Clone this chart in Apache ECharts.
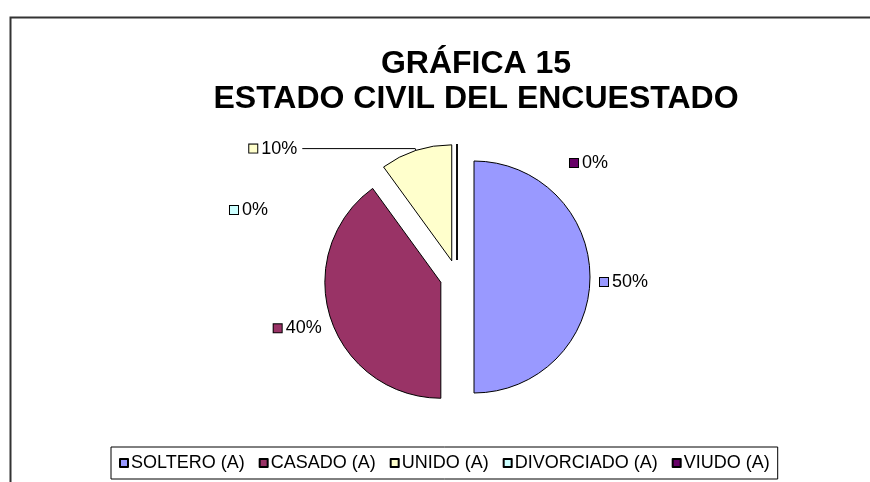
<!DOCTYPE html>
<html>
<head>
<meta charset="utf-8">
<script src="https://cdn.jsdelivr.net/npm/echarts@6/dist/echarts.min.js"></script>
<style>
  html, body { margin: 0; padding: 0; background: #fff; }
  #chart { width: 870px; height: 482px; }
</style>
</head>
<body>
<div id="chart"></div>
<script>
// datos de la gráfica
const categories = ['SOLTERO (A)', 'CASADO (A)', 'UNIDO (A)', 'DIVORCIADO (A)', 'VIUDO (A)'];
const values = [50, 40, 10, 0, 0];
const colors = ['#9999FF', '#993366', '#FFFFCC', '#CCFFFF', '#660066'];

const FONT = '"Liberation Sans", Arial, sans-serif';

const chart = echarts.init(document.getElementById('chart'));

// cuadrito de color delante de cada etiqueta
const rich = {};
colors.forEach((c, i) => {
  rich['k' + i] = {
    width: 8, height: 8,
    backgroundColor: c,
    borderColor: '#000',
    borderWidth: 1
  };
});
rich.t = { fontSize: 18, fontFamily: FONT, color: '#000', padding: [0, 0, 0, 4] };

// largo de la línea guía por porción (solo UNIDO la muestra)
const lineLen = [[4, 4], [4, 4], [2, 113], [4, 4], [4, 4]];
// corrimiento de cada etiqueta para dejarla donde la puso Excel
const labelShift = [[-3, 5], [4, 9], [0, 0], [-180, 70], [160, 23]];

const pieData = categories.map((name, i) => ({
  name: name,
  value: values[i],
  selected: true,
  itemStyle: { color: colors[i] },
  labelLine: { show: i === 2, length: lineLen[i][0], length2: lineLen[i][1] }
}));

const option = {
  animation: false,
  backgroundColor: '#fff',
  graphic: [{
    type: 'rect',
    left: 8, top: 15,
    shape: { width: 900, height: 500 },
    style: { fill: 'none', stroke: '#333', lineWidth: 2 }
  }],
  title: {
    text: 'GRÁFICA 15\nESTADO CIVIL DEL ENCUESTADO',
    left: 471,
    textAlign: 'center',
    top: 42,
    textStyle: {
      fontFamily: FONT,
      fontSize: 32,
      fontWeight: 'bold',
      color: '#000',
      lineHeight: 35
    }
  },
  legend: {
    left: 111,
    top: 447,
    padding: [7, 8],
    itemWidth: 8,
    itemHeight: 8,
    itemGap: 14,
    icon: 'rect',
    borderColor: '#000',
    borderWidth: 1,
    textStyle: { fontFamily: FONT, fontSize: 18, color: '#000', padding: [0, 0, 0, -2] },
    data: categories
  },
  series: [{
    type: 'pie',
    center: [457, 277],
    radius: 116,
    startAngle: 90,
    clockwise: true,
    selectedMode: 'multiple',
    selectedOffset: 17,
    avoidLabelOverlap: false,
    emphasis: { disabled: true },
    itemStyle: { borderColor: '#000', borderWidth: 1 },
    label: {
      position: 'outside',
      formatter: p => '{k' + p.dataIndex + '|}{t|' + Math.round(p.percent) + '%}',
      rich: rich
    },
    labelLine: { lineStyle: { color: '#000', width: 1 } },
    labelLayout: p => ({ dx: labelShift[p.dataIndex][0], dy: labelShift[p.dataIndex][1] }),
    data: pieData
  }]
};

chart.setOption(option);
</script>
</body>
</html>
